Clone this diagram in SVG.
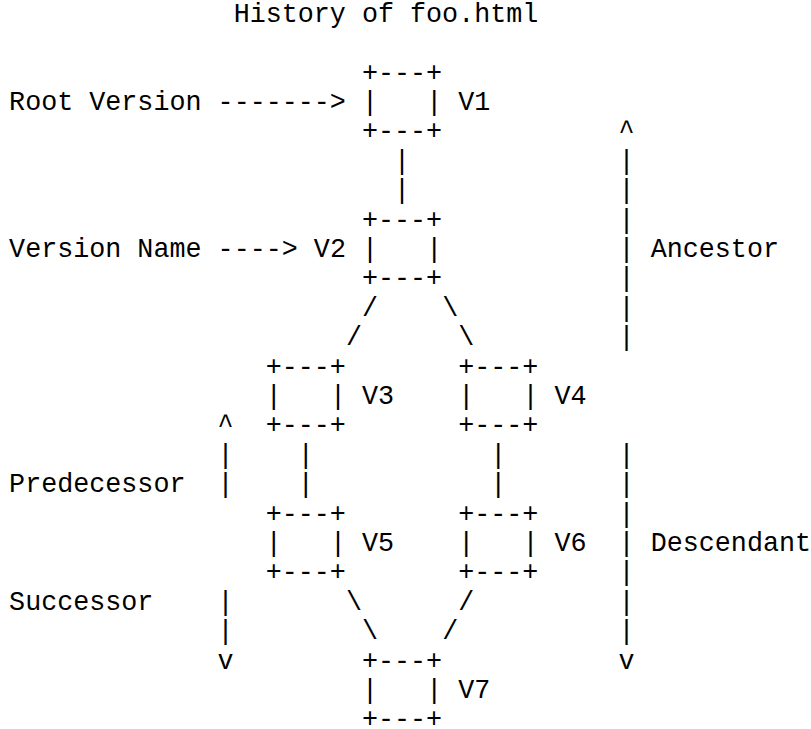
<svg xmlns="http://www.w3.org/2000/svg" width="811" height="729" viewBox="0 0 811 729">
<style>
text{font-family:"Liberation Mono","Courier New",monospace;font-size:26.73px;fill:#000;white-space:pre}
</style>
<rect width="811" height="729" fill="#fff"/>
<g id="title"><text x="233.66" y="21.8">History of foo.html</text></g>
<g id="labels">
<text x="9.1" y="110">Root Version</text>
<text x="9.1" y="257">Version Name</text>
<text x="650.7" y="257">Ancestor</text>
<text x="9.1" y="492.2">Predecessor</text>
<text x="650.7" y="551">Descendant</text>
<text x="9.1" y="609.8">Successor</text>
</g>
<g id="node-v1">
<text x="361.98" y="80.6">+---+</text>
<text x="361.98" y="110">|</text><text x="426.14" y="110">|</text>
<text x="458.22" y="110">V1</text>
<text x="361.98" y="139.4">+---+</text>
</g>
<g id="node-v2">
<text x="361.98" y="227.6">+---+</text>
<text x="313.86" y="257">V2</text>
<text x="361.98" y="257">|</text><text x="426.14" y="257">|</text>
<text x="361.98" y="286.4">+---+</text>
</g>
<g id="node-v3">
<text x="265.74" y="374.6">+---+</text>
<text x="265.74" y="404">|</text><text x="329.9" y="404">|</text>
<text x="361.98" y="404">V3</text>
<text x="265.74" y="433.4">+---+</text>
</g>
<g id="node-v4">
<text x="458.22" y="374.6">+---+</text>
<text x="458.22" y="404">|</text><text x="522.38" y="404">|</text>
<text x="554.46" y="404">V4</text>
<text x="458.22" y="433.4">+---+</text>
</g>
<g id="node-v5">
<text x="265.74" y="521.6">+---+</text>
<text x="265.74" y="551">|</text><text x="329.9" y="551">|</text>
<text x="361.98" y="551">V5</text>
<text x="265.74" y="580.4">+---+</text>
</g>
<g id="node-v6">
<text x="458.22" y="521.6">+---+</text>
<text x="458.22" y="551">|</text><text x="522.38" y="551">|</text>
<text x="554.46" y="551">V6</text>
<text x="458.22" y="580.4">+---+</text>
</g>
<g id="node-v7">
<text x="361.98" y="668.6">+---+</text>
<text x="361.98" y="698">|</text><text x="426.14" y="698">|</text>
<text x="458.22" y="698">V7</text>
<text x="361.98" y="727.4">+---+</text>
</g>
<g id="connectors">
<text x="217.62" y="110">-------&gt;</text>
<text x="217.62" y="257">----&gt;</text>
<text x="394.06" y="168.8">|</text>
<text x="394.06" y="198.2">|</text>
<text x="361.98" y="315.8">/</text><text x="442.18" y="315.8">\</text>
<text x="345.94" y="345.2">/</text><text x="458.22" y="345.2">\</text>
<text x="297.82" y="462.8">|</text><text x="297.82" y="492.2">|</text>
<text x="490.3" y="462.8">|</text><text x="490.3" y="492.2">|</text>
<text x="345.94" y="609.8">\</text><text x="458.22" y="609.8">/</text>
<text x="361.98" y="639.2">\</text><text x="442.18" y="639.2">/</text>
<g id="ancestor-arrow">
<text x="618.62" y="139.4">^</text>
<text x="618.62" y="168.8">|</text>
<text x="618.62" y="198.2">|</text>
<text x="618.62" y="227.6">|</text>
<text x="618.62" y="257">|</text>
<text x="618.62" y="286.4">|</text>
<text x="618.62" y="315.8">|</text>
<text x="618.62" y="345.2">|</text>
</g>
<g id="predecessor-arrow">
<text x="217.62" y="433.4">^</text>
<text x="217.62" y="462.8">|</text>
<text x="217.62" y="492.2">|</text>
</g>
<g id="successor-arrow">
<text x="217.62" y="609.8">|</text>
<text x="217.62" y="639.2">|</text>
<text x="217.62" y="668.6">v</text>
</g>
<g id="descendant-arrow">
<text x="618.62" y="462.8">|</text>
<text x="618.62" y="492.2">|</text>
<text x="618.62" y="521.6">|</text>
<text x="618.62" y="551">|</text>
<text x="618.62" y="580.4">|</text>
<text x="618.62" y="609.8">|</text>
<text x="618.62" y="639.2">|</text>
<text x="618.62" y="668.6">v</text>
</g>
</g>
</svg>
